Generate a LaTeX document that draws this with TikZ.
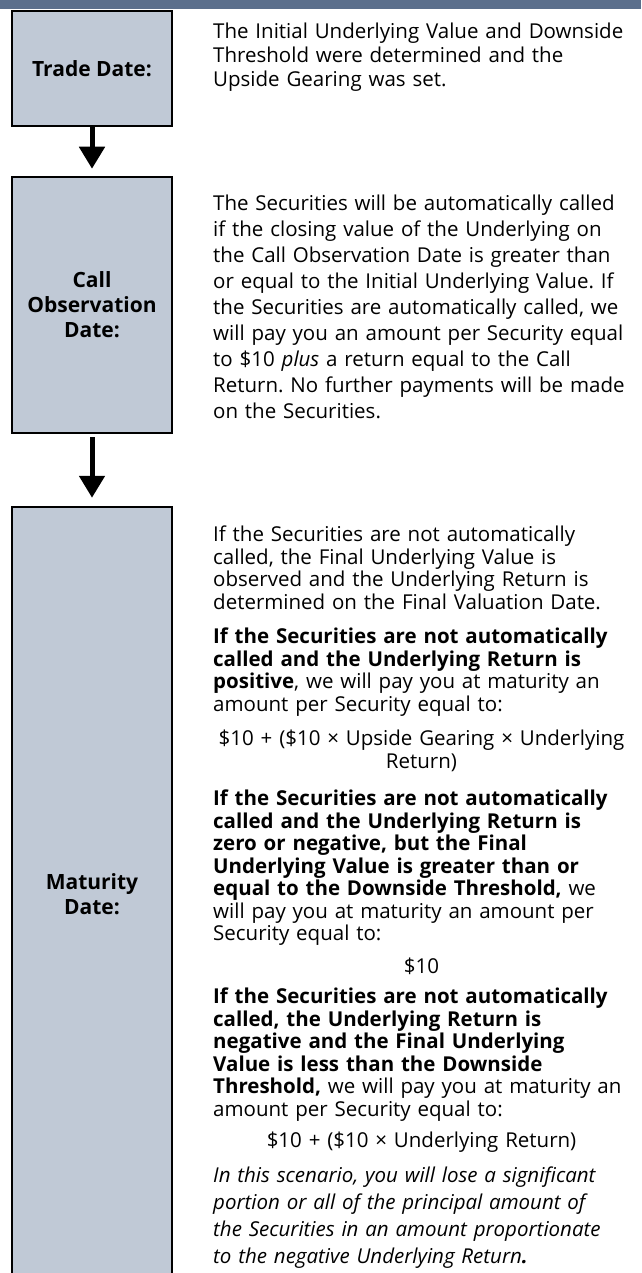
\documentclass[tikz,border=0pt]{standalone}
\usepackage{fontspec}
\setmainfont{Open Sans}
\usepackage{tikz}
\usetikzlibrary{positioning,arrows.meta}
\definecolor{bandblue}{RGB}{91,111,140}
\definecolor{dategray}{RGB}{192,201,214}
\frenchspacing

\begin{document}
\begin{tikzpicture}[x=1pt,y=-1pt,
    datebox/.style={rectangle, draw, line width=2.5pt, fill=dategray, minimum width=160pt, align=center, font=\fontsize{21}{25}\selectfont\bfseries},
    body/.style={anchor=base west, inner sep=0pt, text width=430pt, align=left, font=\fontsize{20.5}{22.5}\selectfont},
    formula/.style={anchor=base, inner sep=0pt, text width=417pt, align=center, font=\fontsize{20.5}{22.5}\selectfont},
    flow/.style={-{Triangle[length=22pt,width=25pt]}, line width=5pt}]

    \useasboundingbox (0,0) rectangle (641,1273);

    % Top band
    \fill[bandblue] (0,0) rectangle (641,9);

    % Date boxes
    \node[datebox, minimum height=115pt] (trade) at (92,68.5) {Trade Date:};
    \node[datebox, minimum height=256pt] (call) at (92,305) {Call\\Observation\\Date:};
    \node[datebox, minimum height=775pt] (mat) at (92,894.5) {Maturity\\Date:};

    % Descriptions
    \node[body, font=\fontsize{20.5}{24}\selectfont] (tradetxt) at (213,38.5) {The Initial Underlying Value and Downside\\
        Threshold were determined and the\\
        Upside Gearing was set.};
    \node[body, font=\fontsize{20.5}{26}\selectfont] (calltxt) at (213,210.5) {The Securities will be automatically called\\
        if the closing value of the Underlying on\\
        the Call Observation Date is greater than\\
        or equal to the Initial Underlying Value. If\\
        the Securities are automatically called, we\\
        will pay you an amount per Security equal\\
        to \$10 \textit{plus} a return equal to the Call\\
        Return. No further payments will be made\\
        on the Securities.};

    % Maturity scenarios
    \node[body] (matp1) at (213,541.5) {If the Securities are not automatically\\
        called, the Final Underlying Value is\\
        observed and the Underlying Return is\\
        determined on the Final Valuation Date.};
    \node[body] (matp2) at (213,643.5) {\textbf{If the Securities are not automatically}\\
        \textbf{called and the Underlying Return is}\\
        \textbf{positive}, we will pay you at maturity an\\
        amount per Security equal to:};
    \node[formula] (matf1) at (421.5,745.5) {\$10 + (\$10 × Upside Gearing × Underlying\\ Return)};
    \node[body] (matp3) at (213,805.5) {\textbf{If the Securities are not automatically}\\
        \textbf{called and the Underlying Return is}\\
        \textbf{zero or negative, but the Final}\\
        \textbf{Underlying Value is greater than or}\\
        \textbf{equal to the Downside Threshold,} we\\
        will pay you at maturity an amount per\\
        Security equal to:};
    \node[formula] (matf2) at (421.5,973.5) {\$10};
    \node[body] (matp4) at (213,1003.5) {\textbf{If the Securities are not automatically}\\
        \textbf{called, the Underlying Return is}\\
        \textbf{negative and the Final Underlying}\\
        \textbf{Value is less than the Downside}\\
        \textbf{Threshold,} we will pay you at maturity an\\
        amount per Security equal to:};
    \node[formula] (matf3) at (421.5,1147.5) {\$10 + (\$10 × Underlying Return)};
    \node[body, font=\fontsize{20.5}{27}\selectfont\itshape] (matp5) at (213,1182.5) {In this scenario, you will lose a significant\\
        portion or all of the principal amount of\\
        the Securities in an amount proportionate\\
        to the negative Underlying Return\textbf{.}};

    % Connections
    \draw[flow, shorten >=7pt] (trade) -- (call);
    \draw[flow, shorten <=3pt, shorten >=8pt] (call) -- (mat);
\end{tikzpicture}
\end{document}
